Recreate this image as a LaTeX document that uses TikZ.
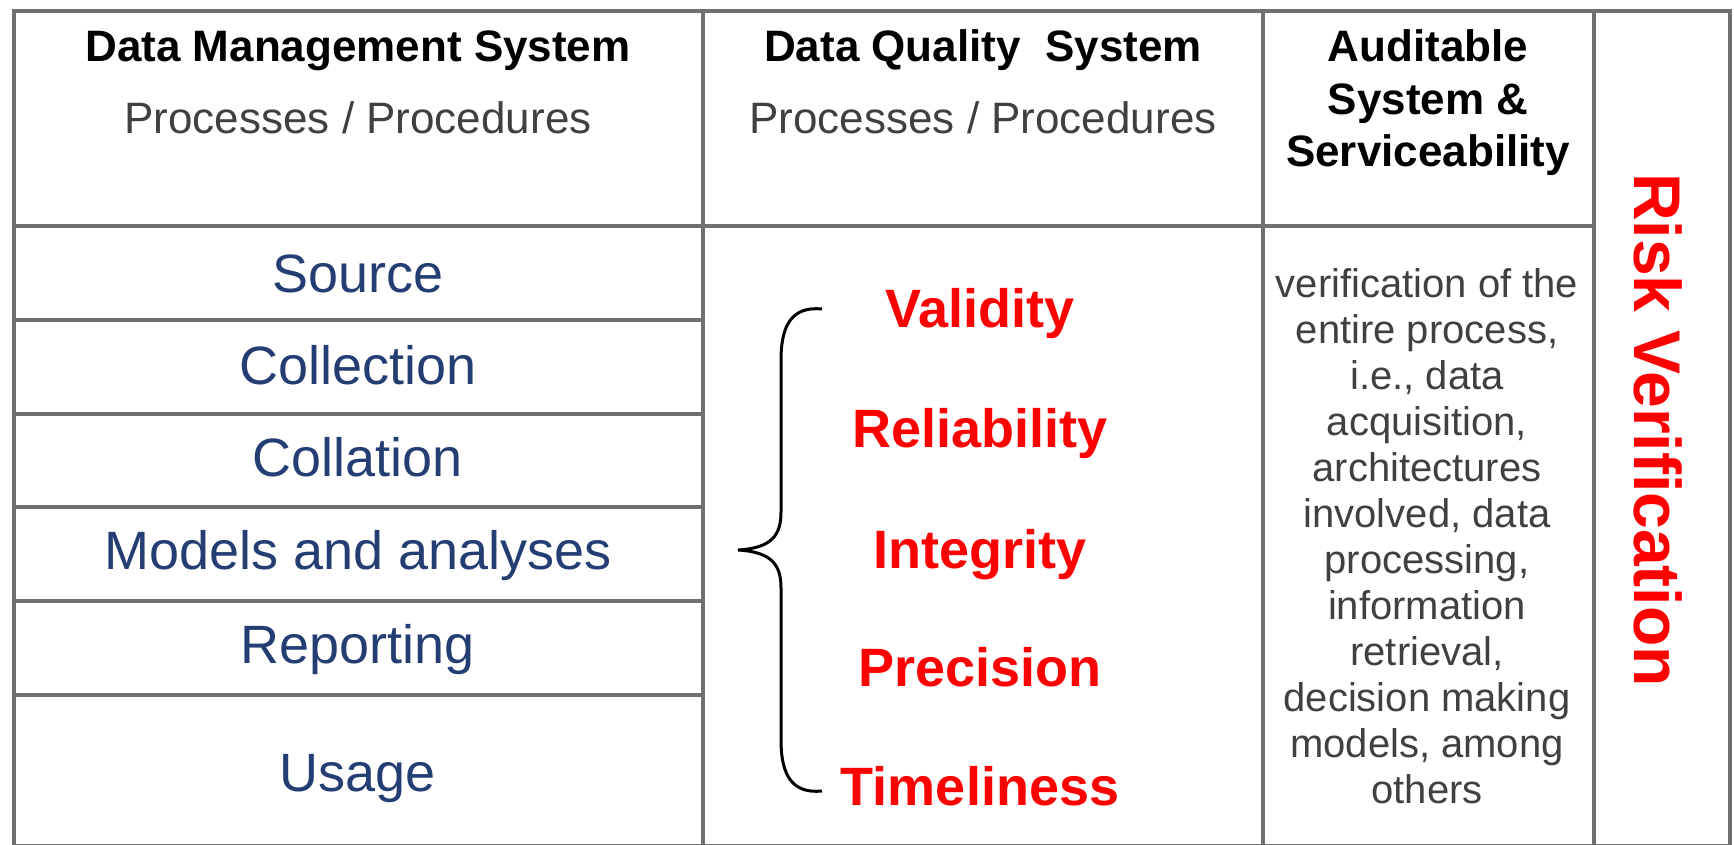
\documentclass[tikz,border=0pt]{standalone}
\usepackage{fontspec}
\setmainfont{Liberation Sans}
\usepackage{xcolor}

\definecolor{rowblue}{RGB}{36,62,115}
\definecolor{txtgray}{RGB}{64,64,64}
\definecolor{gridgray}{RGB}{112,112,112}

\begin{document}
\begin{tikzpicture}[x=0.5pt, y=-0.5pt,
    grid/.style = {draw=gridgray, line width=2pt},
    head/.style = {font=\fontsize{22}{26.25}\selectfont\bfseries, align=center, inner sep=0pt},
    sub/.style = {font=\fontsize{22}{26.25}\selectfont, text=txtgray, inner sep=0pt,
      text height=15.75pt, text depth=0pt},
    rowtxt/.style = {font=\fontsize{27}{30}\selectfont, text=rowblue, inner sep=0pt,
      text height=19.3pt, text depth=0pt},
    qual/.style = {font=\fontsize{27}{30}\selectfont\bfseries, text=red, inner sep=0pt,
      text height=19.3pt, text depth=0pt}]
  \useasboundingbox (0,0) rectangle (1734,845);

  % table lines
  \draw[grid] (14,11) rectangle (1730,846);
  \draw[grid] (14,226) -- (1594,226);
  \draw[grid] (703,11) -- (703,846);
  \draw[grid] (1263,11) -- (1263,846);
  \draw[grid] (1594,11) -- (1594,846);
  \draw[grid] (14,320) -- (703,320);
  \draw[grid] (14,414) -- (703,414);
  \draw[grid] (14,507) -- (703,507);
  \draw[grid] (14,601) -- (703,601);
  \draw[grid] (14,695) -- (703,695);

  % header
  \node[head, text height=15.75pt, text depth=0pt] (dms) at (358,46) {Data Management System};
  \node[sub] (dmsproc) at (358,118) {Processes / Procedures};
  \node[head, text height=15.75pt, text depth=0pt] (dqs) at (983,46) {Data Quality\ \ System};
  \node[sub] (dqsproc) at (983,118) {Processes / Procedures};
  \node[head] (aud) at (1428,103) {Auditable\\System \&\\Serviceability};

  % data management rows
  \node[rowtxt] (src) at (358,273) {Source};
  \node[rowtxt] (coll) at (358,365) {Collection};
  \node[rowtxt] (colt) at (358,457) {Collation};
  \node[rowtxt] (mod) at (358,550) {Models\ and\ analyses};
  \node[rowtxt] (rep) at (358,644) {Reporting};
  \node[rowtxt] (use) at (358,772) {Usage};

  % data quality
  \node[qual] (val) at (980,308) {Validity};
  \node[qual] (rel) at (980,428) {Reliability};
  \node[qual] (integ) at (980,549) {Integrity};
  \node[qual] (prec) at (980,667) {Precision};
  \node[qual] (time) at (980,786) {Timeliness};
  \draw[line width=1.5pt] (822,309) .. controls (792,306) and (781,325) .. (781,360)
    -- (781,512) .. controls (781,535) and (772,548) .. (738,550)
    .. controls (772,552) and (781,565) .. (781,588)
    -- (781,740) .. controls (781,775) and (792,794) .. (822,791);

  % auditable
  \node[font=\fontsize{20}{23}\selectfont, text=txtgray, align=center, inner sep=0pt]
    (audtxt) at (1427,536) {verification of the\\entire process,\\i.e., data\\acquisition,\\architectures\\involved, data\\processing,\\information\\retrieval,\\decision making\\models, among\\others};

  \node[font=\fontsize{33}{36}\selectfont\bfseries, text=red, inner sep=0pt,
    text height=23.6pt, text depth=0pt, rotate=-90] (risk) at (1658,430) {Risk Verification};
\end{tikzpicture}
\end{document}
